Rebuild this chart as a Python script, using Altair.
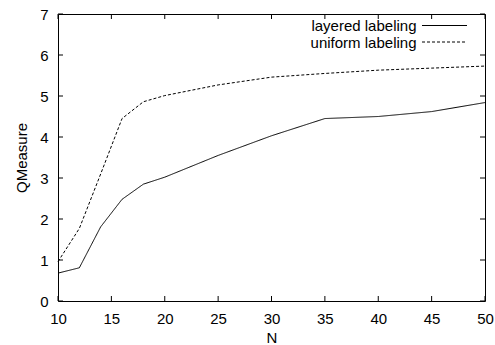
import altair as alt
import pandas as pd

n_values = [10, 12, 14, 16, 18, 20, 25, 30, 35, 40, 45, 50]
layered = [0.68, 0.81, 1.81, 2.48, 2.85, 3.02, 3.55, 4.03, 4.45, 4.50, 4.62, 4.84]
uniform = [0.96, 1.77, 3.10, 4.45, 4.86, 5.01, 5.27, 5.46, 5.55, 5.63, 5.68, 5.73]
series_names = ["layered labeling", "uniform labeling"]
x_ticks = [10, 15, 20, 25, 30, 35, 40, 45, 50]
y_ticks = [0, 1, 2, 3, 4, 5, 6, 7]

W, H = 427, 287
FONT = "Liberation Sans"
FS = 15
TL = 5

df = pd.DataFrame({
    "N": n_values * 2,
    "QMeasure": layered + uniform,
    "series": [series_names[0]] * len(n_values) + [series_names[1]] * len(n_values),
})

xscale = alt.Scale(domain=[10, 50], nice=False, zero=False)
yscale = alt.Scale(domain=[0, 7], nice=False)

xax = alt.Axis(values=x_ticks, domain=False, ticks=False, grid=False, labelPadding=10,
               titlePadding=4, format="d", labelFlush=False, labelOverlap=False)
yax = alt.Axis(values=y_ticks, domain=False, ticks=False, grid=False, labelPadding=10,
               titlePadding=10, format="d", labelFlush=False, labelOverlap=False)

lines = []
dashes = [[1, 0], [3, 2]]
for name, dash in zip(series_names, dashes):
    lines.append(
        alt.Chart(df[df.series == name]).mark_line(color="black", strokeWidth=1, strokeDash=dash)
        .encode(x=alt.X("N:Q", scale=xscale, axis=xax, title="N"),
                y=alt.Y("QMeasure:Q", scale=yscale, axis=yax, title="QMeasure"))
    )

xt = pd.DataFrame({"N": x_ticks})
yt = pd.DataFrame({"QMeasure": y_ticks})
tick_layers = [
    alt.Chart(xt).mark_rule(color="black", strokeWidth=1).encode(
        x=alt.X("N:Q", scale=xscale), y=alt.value(H), y2=alt.value(H - TL)),
    alt.Chart(xt).mark_rule(color="black", strokeWidth=1).encode(
        x=alt.X("N:Q", scale=xscale), y=alt.value(0), y2=alt.value(TL)),
    alt.Chart(yt).mark_rule(color="black", strokeWidth=1).encode(
        y=alt.Y("QMeasure:Q", scale=yscale), x=alt.value(0), x2=alt.value(TL)),
    alt.Chart(yt).mark_rule(color="black", strokeWidth=1).encode(
        y=alt.Y("QMeasure:Q", scale=yscale), x=alt.value(W - TL), x2=alt.value(W)),
]

legend_layers = []
row_y = [12, 28.5]
for name, dash, ry in zip(series_names, dashes, row_y):
    ld = pd.DataFrame({"label": [name]})
    legend_layers.append(
        alt.Chart(ld).mark_text(align="right", baseline="middle", font=FONT, fontSize=FS, color="black")
        .encode(text="label:N", x=alt.value(358.5), y=alt.value(ry))
    )
    legend_layers.append(
        alt.Chart(ld).mark_rule(color="black", strokeWidth=1, strokeDash=dash)
        .encode(x=alt.value(364), x2=alt.value(409), y=alt.value(ry - 0.5))
    )

chart = alt.layer(*lines, *tick_layers, *legend_layers).properties(
    width=W, height=H,
    autosize=alt.AutoSizeParams(type="none"),
    padding={"left": 58, "top": 14, "right": 10, "bottom": 44},
    background="white",
).configure_view(stroke="black", strokeWidth=1).configure_axis(
    labelFont=FONT, labelFontSize=FS, labelColor="black",
    titleFont=FONT, titleFontSize=FS, titleFontWeight="normal", titleColor="black",
)

chart.save("out.html", embed_options={"renderer": "svg", "actions": False})
